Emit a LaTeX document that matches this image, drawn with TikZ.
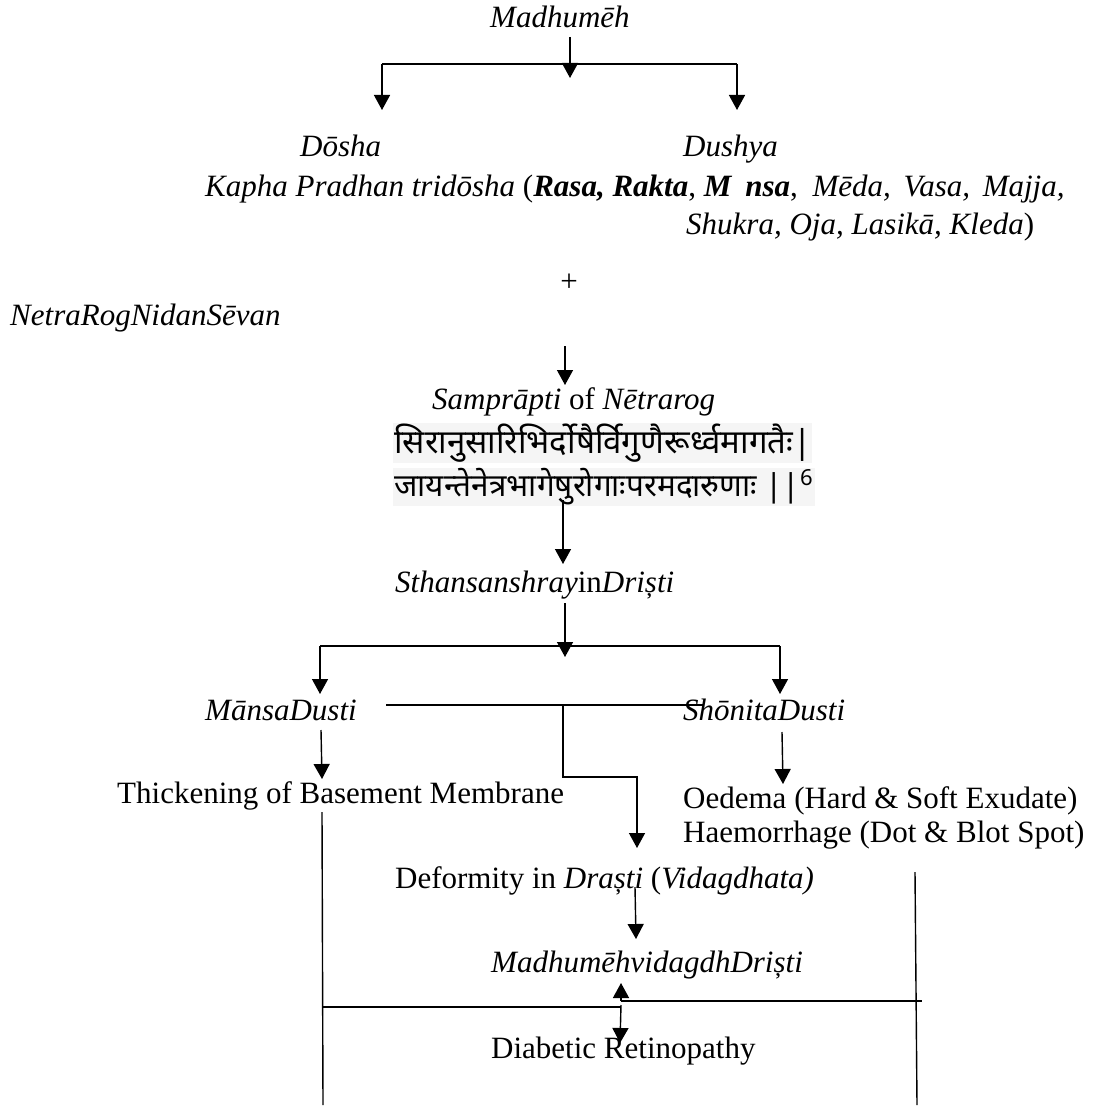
\documentclass[tikz,border=0pt]{standalone}
\usepackage{graphicx}
\usepackage{fontspec}
\setmainfont{Liberation Serif}
\newfontfamily\devfont[Script=Devanagari]{Noto Sans}
\usetikzlibrary{arrows.meta}
\begin{document}
\begin{tikzpicture}[x=1pt,y=-1pt,
  every node/.style={font=\fontsize{31}{36}\selectfont},
  txt/.style={inner sep=0pt, anchor=base west},
  devtxt/.style={inner sep=1pt, anchor=west, fill=black!4, font=\devfont},
  ln/.style={line width=1.4pt},
  arr/.style={line width=1.4pt, -{Triangle[width=16pt,length=15pt]}},
]
\fill[white] (0,0) rectangle (1097,1113);
\useasboundingbox (0,0) rectangle (1097,1113);

% texts
\node[txt] (madhu) at (490,28) {\textit{Madhumēh}};
\node[txt] (dosha) at (300,156) {\textit{Dōsha}};
\node[txt] (dushya) at (683,156) {\textit{Dushya}};
\node[txt] (kapha) at (205,196) {\textit{Kapha Pradhan tridōsha} (\textbf{\textit{Rasa, Rakta}}, \textbf{\textit{M\hspace{0.45em}nsa}},\hspace{7pt} \textit{Mēda,\hspace{5pt} Vasa,\hspace{5pt} Majja,}};
\node[txt] (shukra) at (686,234) {\textit{Shukra, Oja, Lasikā, Kleda})};
\node[inner sep=0pt] (plus) at (569,283) {+};
\node[txt] (netra) at (10,325) {\textit{NetraRogNidanSēvan}};
\node[txt] (sampra) at (432,409) {\textit{Samprāpti} of \textit{Nētrarog}};
\node[devtxt] (sk1) at (393,443) {\resizebox{417pt}{!}{सिरानुसारिभिर्दोषैर्विगुणैरूर्ध्वमागतैः|}};
\node[devtxt] (sk2) at (393,487) {\resizebox{420pt}{!}{जायन्तेनेत्रभागेषुरोगाःपरमदारुणाः ||\textsuperscript{\scriptsize 6}}};
\node[txt] (sthan) at (395,592) {\textit{Sthansanshray}in\textit{Driști}};
\node[txt] (mansa) at (205,720) {\textit{MānsaDusti}};
\node[txt] (shonita) at (683,720) {\textit{ShōnitaDusti}};
\node[txt] (thick) at (117,803) {Thickening of Basement Membrane};
\node[txt] (oedema) at (683,808) {Oedema (Hard \& Soft Exudate)};
\node[txt] (haem) at (683,842) {Haemorrhage (Dot \& Blot Spot)};
\node[txt] (deform) at (395,888) {Deformity in \textit{Draști} (\textit{Vidagdhata)}};
\node[txt] (mvd) at (491,972) {\textit{MadhumēhvidagdhDriști}};
\node[txt] (dr) at (491,1058) {Diabetic Retinopathy};

% connector points
\coordinate (t1) at (570,37); \coordinate (t2) at (570,78);
\coordinate (hl) at (382,64); \coordinate (hr) at (737,64);
\coordinate (hlb) at (382,110); \coordinate (hrb) at (737,110);
\coordinate (n1) at (565,346); \coordinate (n2) at (565,385);
\coordinate (d1) at (563,500); \coordinate (d2) at (563,564);
\coordinate (s1) at (565,603); \coordinate (s2) at (565,657);
\coordinate (sl) at (320,646); \coordinate (sr) at (780,646);
\coordinate (slb) at (320,694); \coordinate (srb) at (780,694);
\coordinate (m1) at (386,705); \coordinate (m2) at (703,705);
\coordinate (b1) at (563,705); \coordinate (b2) at (563,777);
\coordinate (b3) at (637,777); \coordinate (b4) at (637,848);
\coordinate (md1) at (321,730); \coordinate (md2) at (322,779);
\coordinate (sd1) at (782,732); \coordinate (sd2) at (783,784);
\coordinate (lv1) at (322,812); \coordinate (lv2) at (323,1105);
\coordinate (rv1) at (915,872); \coordinate (rv2) at (917,1105);
\coordinate (df1) at (635,887); \coordinate (df2) at (636,939);
\coordinate (bl1) at (323,1007); \coordinate (bl2) at (621,1007);
\coordinate (br1) at (621,1001); \coordinate (br2) at (922,1001);
\coordinate (u2) at (621,983);
\coordinate (dd1) at (621,1005); \coordinate (dd2) at (620,1043);

% connectors
\draw[arr] (t1) -- (t2);
\draw[ln] (hl) -- (hr);
\draw[arr] (hl) -- (hlb);
\draw[arr] (hr) -- (hrb);
\draw[arr] (n1) -- (n2);
\draw[arr] (d1) -- (d2);
\draw[arr] (s1) -- (s2);
\draw[ln] (sl) -- (sr);
\draw[arr] (sl) -- (slb);
\draw[arr] (sr) -- (srb);
\draw[ln] (m1) -- (m2);
\draw[arr] (b1) -- (b2) -- (b3) -- (b4);
\draw[arr] (md1) -- (md2);
\draw[arr] (sd1) -- (sd2);
\draw[ln] (lv1) -- (lv2);
\draw[ln] (rv1) -- (rv2);
\draw[arr] (df1) -- (df2);
\draw[ln] (bl1) -- (bl2);
\draw[ln] (br1) -- (br2);
\draw[arr] (br1) -- (u2);
\draw[arr] (dd1) -- (dd2);
\end{tikzpicture}
\end{document}
